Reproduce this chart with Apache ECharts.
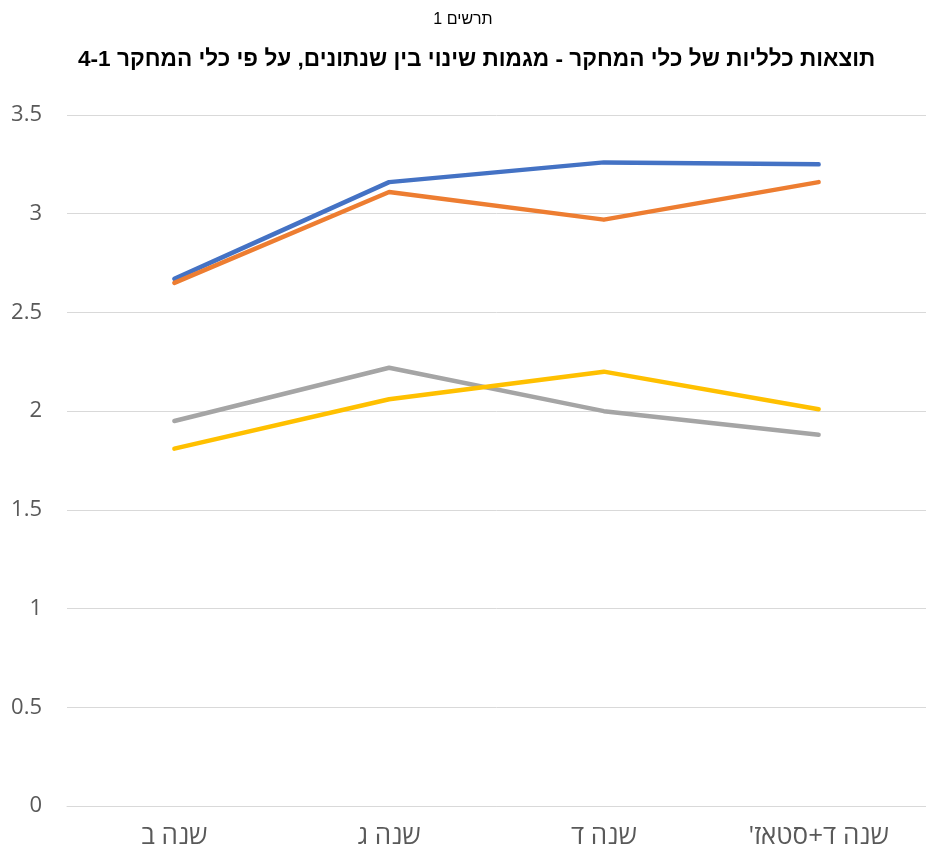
<!DOCTYPE html>
<html>
<head>
<meta charset="utf-8">
<script src="https://cdn.jsdelivr.net/npm/echarts@6/dist/echarts.min.js"></script>
<style>
html,body{margin:0;padding:0;background:#fff;}
#chart{width:926px;height:853px;}
</style>
</head>
<body>
<div id="chart" dir="rtl"></div>
<script>
const titleText = 'תרשים 1';
const subtitleText = 'תוצאות כלליות של כלי המחקר - מגמות שינוי בין שנתונים, על פי כלי המחקר 4-1';
const categories = ['שנה ב', 'שנה ג', 'שנה ד', "שנה ד+סטאז'"];
const seriesBlue = [2.67, 3.16, 3.26, 3.25];
const seriesOrange = [2.65, 3.11, 2.97, 3.16];
const seriesGray = [1.95, 2.22, 2.00, 1.88];
const seriesYellow = [1.81, 2.06, 2.20, 2.01];
const yTicks = [0, 0.5, 1, 1.5, 2, 2.5, 3, 3.5];

const chart = echarts.init(document.getElementById('chart'));
const lineSeries = (data, color) => ({
  type: 'line', data: data, symbol: 'none', smooth: false,
  lineStyle: { color: color, width: 4.5, cap: 'round', join: 'round' },
  itemStyle: { color: color }
});
const titleFont = 'Liberation Sans, Arial, sans-serif';
const axisFont = 'Open Sans, Liberation Sans, sans-serif';
chart.setOption({
  animation: false,
  backgroundColor: '#fff',
  title: [
    { text: titleText, left: 'center', top: 7,
      textStyle: { fontFamily: titleFont, fontSize: 16, fontWeight: 'normal', color: '#000' } },
    { text: subtitleText, left: 73, top: 43,
      textStyle: { fontFamily: titleFont, fontSize: 22.6, fontWeight: 'bold', color: '#000' } }
  ],
  grid: { left: 67, width: 872, top: 115, height: 691, containLabel: false },
  xAxis: {
    type: 'category', data: categories, boundaryGap: true,
    axisLine: { show: true, lineStyle: { color: '#D9D9D9', width: 1 } },
    axisTick: { show: false },
    axisLabel: { interval: 0, color: '#595959', fontSize: 26, lineHeight: 26, margin: 18, fontFamily: axisFont },
    splitLine: { show: false }
  },
  yAxis: {
    type: 'value', min: yTicks[0], max: yTicks[yTicks.length - 1], interval: 0.5,
    axisLine: { show: false }, axisTick: { show: false },
    axisLabel: { color: '#595959', fontSize: 22, margin: 25, fontFamily: axisFont },
    splitLine: { show: true, lineStyle: { color: '#D9D9D9', width: 1 } }
  },
  series: [
    lineSeries(seriesBlue, '#4472C4'),
    lineSeries(seriesOrange, '#ED7D31'),
    lineSeries(seriesGray, '#A5A5A5'),
    lineSeries(seriesYellow, '#FFC000')
  ]
});
</script>
</body>
</html>
